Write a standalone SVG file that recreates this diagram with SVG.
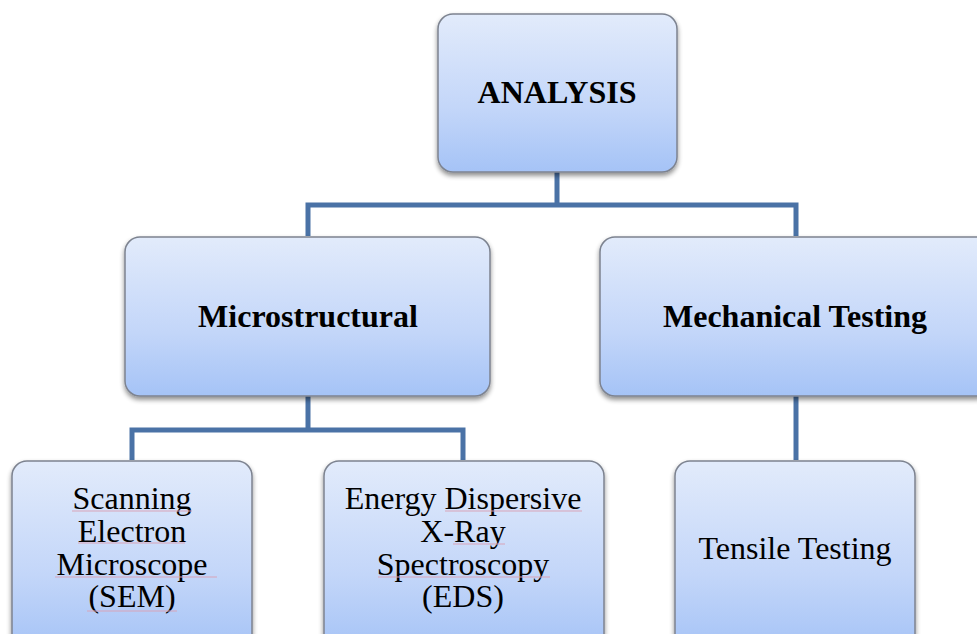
<svg xmlns="http://www.w3.org/2000/svg" width="977" height="634" viewBox="0 0 977 634">
<defs>
<linearGradient id="g" x1="0" y1="0" x2="0" y2="1">
<stop offset="0" stop-color="#e2ebfb"/>
<stop offset="0.6" stop-color="#c3d6f9"/>
<stop offset="1" stop-color="#a5c3f6"/>
</linearGradient>
<filter id="sh" x="-10%" y="-10%" width="120%" height="130%">
<feGaussianBlur in="SourceAlpha" stdDeviation="2.5"/>
<feOffset dx="0" dy="3" result="b"/>
<feComponentTransfer><feFuncA type="linear" slope="0.45"/></feComponentTransfer>
<feMerge><feMergeNode/><feMergeNode in="SourceGraphic"/></feMerge>
</filter>
</defs>
<style>
.box{fill:url(#g);stroke:#7d8390;stroke-width:1.5;filter:url(#sh)}
.con{fill:none;stroke:#4a72a6;stroke-width:5}
.sq{stroke:#d8a3b8;stroke-width:1;fill:none}
.t{font-family:"Liberation Serif","Times New Roman",serif;font-size:32px;fill:#000;text-anchor:middle}
.b{font-weight:bold}
</style>
<rect width="977" height="634" fill="#ffffff"/>
<g id="connectors">
<path class="con" d="M557 172 V205 M308 236 V205 H796 V236"/>
<path class="con" d="M308 396 V430 M132 460 V430 H463 V460"/>
<path class="con" d="M796 396 V460"/>
</g>
<g id="analysis">
<rect class="box" x="438" y="14" width="239" height="158" rx="15"/>
<text class="t b" x="557" y="103">ANALYSIS</text>
</g>
<g id="microstructural">
<rect class="box" x="125" y="237" width="365" height="159" rx="15"/>
<text class="t b" x="308" y="327">Microstructural</text>
</g>
<g id="mechanical">
<rect class="box" x="600" y="237" width="392" height="159" rx="15"/>
<text class="t b" x="795" y="327">Mechanical Testing</text>
</g>
<g id="sem">
<rect class="box" x="12" y="461" width="240" height="190" rx="15"/>
<text class="t" x="132" y="509">Scanning</text>
<text class="t" x="132" y="542">Electron</text>
<text class="t" x="132" y="575">Microscope</text>
<text class="t" x="132" y="607">(SEM)</text>
<path class="sq" d="M72 511 H192 M78 543 H185 M55 577 H217 M87 611 H177"/>
</g>
<g id="eds">
<rect class="box" x="324" y="461" width="280" height="190" rx="15"/>
<text class="t" x="463" y="509">Energy Dispersive</text>
<text class="t" x="463" y="542">X-Ray</text>
<text class="t" x="463" y="575">Spectroscopy</text>
<text class="t" x="463" y="607">(EDS)</text>
<path class="sq" d="M445 511 H582 M453 544 H505 M378 577 H550"/>
</g>
<g id="tensile">
<rect class="box" x="675" y="461" width="240" height="190" rx="15"/>
<text class="t" x="795" y="559">Tensile Testing</text>
</g>
</svg>
